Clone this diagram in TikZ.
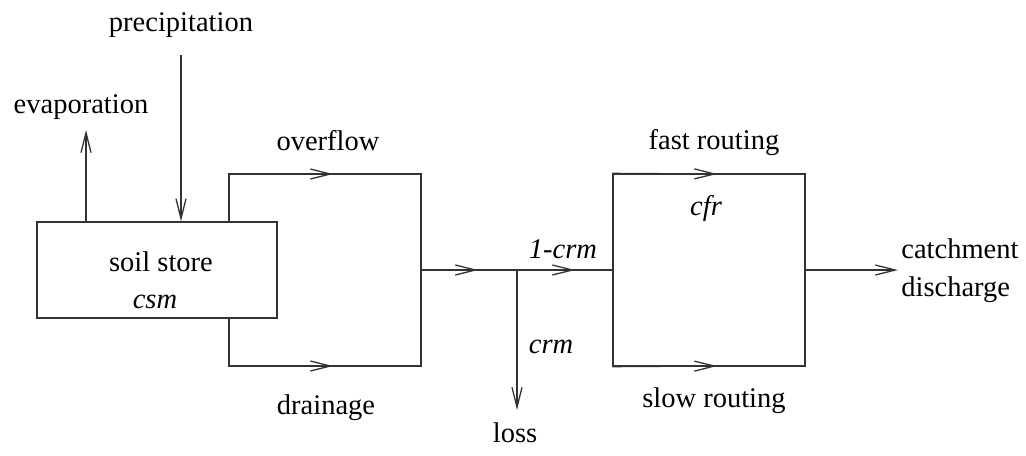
\documentclass[tikz,border=0pt]{standalone}
\usepackage{fontspec}
\setmainfont{Liberation Serif}
\usetikzlibrary{arrows.meta}
\begin{document}
\begin{tikzpicture}[x=0.5pt,y=-0.5pt,
  line/.style={draw=black!80,line width=0.65pt},
  flow/.style={line,-{Straight Barb[length=10pt,width=5pt,line width=0.65pt]}},
  box/.style={line,rectangle,inner sep=0pt},
  lbl/.style={anchor=base,inner sep=0pt,font=\fontsize{14.25}{17}\selectfont}]
\useasboundingbox (0,0) rectangle (1026,455);

% stores
\node[box,minimum width=120pt,minimum height=48pt] (soil) at (157,270) {};
\node[box,minimum width=96pt,minimum height=96pt] (route) at (709,270) {};

% fixed points of the flow lines
\coordinate (evtop) at (86,130);
\coordinate (prtop) at (181,55);
\coordinate (ovL) at (229,174);
\coordinate (ovM) at (333,174);
\coordinate (ovR) at (421,174);
\coordinate (drL) at (229,366);
\coordinate (drM) at (333,366);
\coordinate (drR) at (421,366);
\coordinate (junc) at (421,270);
\coordinate (m1) at (478,270);
\coordinate (split) at (517,270);
\coordinate (m2) at (575,270);
\coordinate (lossend) at (517,410);
\coordinate (fastM) at (717,174);
\coordinate (slowM) at (717,366);
\coordinate (outend) at (898,270);

% inputs and outputs of the soil store
\draw[flow] (evtop |- soil.north) -- (evtop);
\draw[flow] (prtop) -- (prtop |- soil.north);

% overflow and drainage
\draw[line] (ovL |- soil.north) -- (ovL) -- (ovR) -- (drR) -- (drL) -- (drL |- soil.south);
\draw[flow] (ovL) -- (ovM);
\draw[flow] (drL) -- (drM);

% recharge and loss
\draw[line] (junc) -- (route.west);
\draw[flow] (junc) -- (m1);
\draw[flow] (split) -- (m2);
\draw[flow] (split) -- (lossend);

% routing
\draw[flow] (route.north west) -- (fastM);
\draw[flow] (route.south west) -- (slowM);
\draw[flow] (route.east) -- (outend);

% labels
\node[lbl] (tprec) at (181,31) {precipitation};
\node[lbl] (tevap) at (81,113) {evaporation};
\node[lbl] (tover) at (328,150) {overflow};
\node[lbl] (tdrain) at (326,414) {drainage};
\node[lbl] (tsoil) at (161,271) {soil store};
\node[lbl] (tcsm) at (155,308) {\itshape csm};
\node[lbl] (tfast) at (714,149) {fast routing};
\node[lbl] (tcfr) at (706,215) {\itshape cfr};
\node[lbl] (tcrm1) at (563,258) {\itshape 1-crm};
\node[lbl] (tcrm) at (551,353) {\itshape crm};
\node[lbl] (tslow) at (714,407) {slow routing};
\node[lbl] (tloss) at (515,442) {loss};
\node[lbl,anchor=base west] (tcatch) at (901,258) {catchment};
\node[lbl,anchor=base west] (tdisch) at (901,296) {discharge};
\end{tikzpicture}
\end{document}
